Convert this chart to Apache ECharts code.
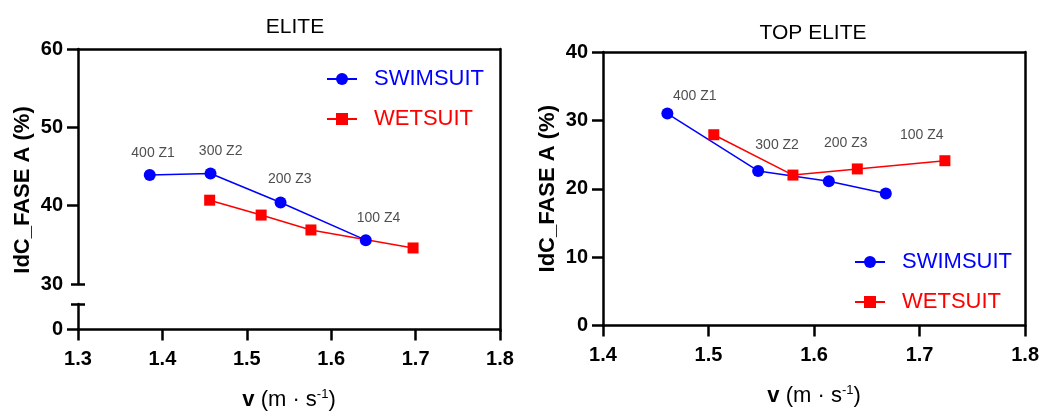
<!DOCTYPE html>
<html><head><meta charset="utf-8">
<script src="https://cdn.jsdelivr.net/npm/echarts@6/dist/echarts.min.js"></script>
<style>html,body{margin:0;padding:0;background:#fff}#c{width:1042px;height:412px}</style>
</head><body><div id="c"></div>
<script>
const seriesNames = ['SWIMSUIT', 'WETSUIT'];
const chartTitles = ['ELITE', 'TOP ELITE'];
const eliteSwimV = [1.385, 1.457, 1.540, 1.641];
const eliteSwimY = [43.9, 44.1, 40.4, 35.6];
const eliteWetV = [1.456, 1.517, 1.576, 1.697];
const eliteWetY = [40.7, 38.8, 36.9, 34.6];
const topSwimV = [1.461, 1.547, 1.614, 1.668];
const topSwimY = [31.0, 22.6, 21.1, 19.3];
const topWetV = [1.505, 1.580, 1.641, 1.724];
const topWetY = [27.9, 22.0, 22.9, 24.1];
const zoneLabels = ['400 Z1', '300 Z2', '200 Z3', '100 Z4'];
const eliteLabelV = [1.389, 1.469, 1.551, 1.656];
const eliteLabelY = [46.7, 47.0, 43.4, 38.4];
const topLabelV = [1.487, 1.565, 1.630, 1.702];
const topLabelY = [33.5, 26.4, 26.6, 27.8];
const eliteXTicks = [1.3, 1.4, 1.5, 1.6, 1.7, 1.8];
const eliteYUpperTicks = [30, 40, 50, 60];
const eliteYLowerTicks = [0];
const topXTicks = [1.4, 1.5, 1.6, 1.7, 1.8];
const topYTicks = [0, 10, 20, 30, 40];
const yName = 'IdC_FASE A (%)';

const BLUE = '#0000ff', RED = '#ff0000';
const FONT = 'Liberation Sans, Arial, sans-serif';
const zip = (a, b) => a.map((v, i) => [v, b[i]]);
const lineW = 2.5;

const axLine = { show: true, onZero: false, lineStyle: { color: '#000', width: lineW } };
const noLine = { show: false, onZero: false };
const tickOut = (vals, len) => ({ show: true, inside: false, length: len, customValues: vals, lineStyle: { color: '#000', width: lineW } });
const tickIn = (vals, len) => ({ show: true, inside: true, length: len, customValues: vals, lineStyle: { color: '#000', width: lineW } });
const lbl = (vals, margin) => ({ show: true, customValues: vals, margin: margin, color: '#000', fontFamily: FONT, fontSize: 20, fontWeight: 'bold' });
const off = { show: false };

const xName = '{b|v}{n| (m · s}{s|-1}{n|)}';
const xNameStyle = { color: '#000', fontFamily: FONT, rich: {
  b: { fontWeight: 'bold', fontSize: 22, fontFamily: FONT, color: '#000' },
  n: { fontSize: 22, fontFamily: FONT, color: '#000' },
  s: { fontSize: 13, fontFamily: FONT, color: '#000', verticalAlign: 'top', padding: [0, 0, 12, 0] }
}};
const yNameStyle = { color: '#000', fontFamily: FONT, fontSize: 22, fontWeight: 'bold' };

function lineSeries(name, xi, yi, data, color, symbol, size) {
  return { type: 'line', name: name, xAxisIndex: xi, yAxisIndex: yi, data: data,
    symbol: symbol, symbolSize: size, showSymbol: true, color: color,
    lineStyle: { color: color, width: 1.5 }, itemStyle: { color: color }, z: 3, animation: false };
}
function labelSeries(xi, yi, v, y) {
  return { type: 'scatter', name: 'zones', xAxisIndex: xi, yAxisIndex: yi, symbolSize: 0, silent: true, animation: false,
    data: v.map((x, i) => ({ value: [x, y[i]], name: zoneLabels[i] })),
    label: { show: true, position: 'inside', formatter: p => p.name, color: '#222', fontFamily: FONT, fontSize: 14 } };
}
function legend(left, top) {
  return { left: left, top: top, orient: 'vertical', itemWidth: 30, itemHeight: 15, itemGap: 18, padding: 0,
    selectedMode: false,
    data: [{ name: seriesNames[0], textStyle: { color: BLUE } }, { name: seriesNames[1], textStyle: { color: RED } }],
    textStyle: { fontFamily: FONT, fontSize: 22, padding: [0, 0, 0, 12] } };
}

const option = {
  animation: false,
  backgroundColor: '#fff',
  title: [
    { text: chartTitles[0], left: 290, top: 12, textAlign: 'center', textStyle: { fontFamily: FONT, fontSize: 21, fontWeight: 'normal', color: '#000' } },
    { text: chartTitles[1], left: 808, top: 18, textAlign: 'center', textStyle: { fontFamily: FONT, fontSize: 21, fontWeight: 'normal', color: '#000' } }
  ],
  legend: [legend(326, 68), legend(854, 251)],
  grid: [
    { left: 78, width: 422, top: 49, height: 235 },
    { left: 78, width: 422, top: 304, height: 27 },
    { left: 78, width: 422, top: 49, height: 282 },
    { left: 603, width: 423, top: 52, height: 281 }
  ],
  xAxis: [
    { type: 'value', gridIndex: 0, position: 'top', min: 1.3, max: 1.8, axisLine: axLine, axisTick: off, axisLabel: off, splitLine: off },
    { type: 'value', gridIndex: 1, position: 'bottom', min: 1.3, max: 1.8, interval: 0.1, axisLine: axLine,
      axisTick: tickOut(eliteXTicks, 11), axisLabel: lbl(eliteXTicks, 20), splitLine: off,
      name: xName, nameLocation: 'middle', nameGap: 58, nameTextStyle: xNameStyle },
    { type: 'value', gridIndex: 2, position: 'bottom', min: 1.3, max: 1.8, axisLine: noLine, axisTick: off, axisLabel: off, splitLine: off },
    { type: 'value', gridIndex: 3, position: 'bottom', min: 1.4, max: 1.8, interval: 0.1, axisLine: axLine,
      axisTick: tickOut(topXTicks, 11), axisLabel: lbl(topXTicks, 20), splitLine: off,
      name: xName, nameLocation: 'middle', nameGap: 58, nameTextStyle: xNameStyle },
    { type: 'value', gridIndex: 3, position: 'top', min: 1.4, max: 1.8, axisLine: axLine, axisTick: off, axisLabel: off, splitLine: off }
  ],
  yAxis: [
    { type: 'value', gridIndex: 0, position: 'left', min: 30, max: 60, interval: 10, axisLine: axLine,
      axisTick: tickOut([40, 50, 60], 11), axisLabel: lbl(eliteYUpperTicks, 15), splitLine: off },
    { type: 'value', gridIndex: 0, position: 'left', min: 30, max: 60, axisLine: noLine,
      axisTick: tickIn([30], 7), axisLabel: off, splitLine: off },
    { type: 'value', gridIndex: 0, position: 'left', min: 30, max: 60, axisLine: noLine,
      axisTick: tickOut([30], 7), axisLabel: off, splitLine: off },
    { type: 'value', gridIndex: 1, position: 'left', min: 0, max: 5, interval: 5, axisLine: axLine,
      axisTick: tickOut(eliteYLowerTicks, 11), axisLabel: lbl(eliteYLowerTicks, 15), splitLine: off },
    { type: 'value', gridIndex: 1, position: 'left', min: 0, max: 5, axisLine: noLine,
      axisTick: tickIn([5], 7), axisLabel: off, splitLine: off },
    { type: 'value', gridIndex: 1, position: 'left', min: 0, max: 5, axisLine: noLine,
      axisTick: tickOut([5], 7), axisLabel: off, splitLine: off },
    { type: 'value', gridIndex: 2, position: 'right', min: 0, max: 1, axisLine: axLine, axisTick: off, axisLabel: off, splitLine: off },
    { type: 'value', gridIndex: 2, position: 'left', min: 0, max: 1, axisLine: noLine, axisTick: off, axisLabel: off, splitLine: off,
      name: yName, nameLocation: 'middle', nameGap: 44, nameTextStyle: yNameStyle },
    { type: 'value', gridIndex: 3, position: 'left', min: 0, max: 40, interval: 10, axisLine: axLine,
      axisTick: tickOut(topYTicks, 11), axisLabel: lbl(topYTicks, 15), splitLine: off,
      name: yName, nameLocation: 'middle', nameGap: 44, nameTextStyle: yNameStyle },
    { type: 'value', gridIndex: 3, position: 'right', min: 0, max: 40, axisLine: axLine, axisTick: off, axisLabel: off, splitLine: off }
  ],
  series: [
    lineSeries(seriesNames[0], 0, 0, zip(eliteSwimV, eliteSwimY), BLUE, 'circle', 12),
    lineSeries(seriesNames[1], 0, 0, zip(eliteWetV, eliteWetY), RED, 'rect', 11),
    labelSeries(0, 0, eliteLabelV, eliteLabelY),
    lineSeries(seriesNames[0], 3, 8, zip(topSwimV, topSwimY), BLUE, 'circle', 12),
    lineSeries(seriesNames[1], 3, 8, zip(topWetV, topWetY), RED, 'rect', 11),
    labelSeries(3, 8, topLabelV, topLabelY)
  ]
};
const chart = echarts.init(document.getElementById('c'), null, { renderer: 'canvas' });
chart.setOption(option);
</script>
</body></html>
